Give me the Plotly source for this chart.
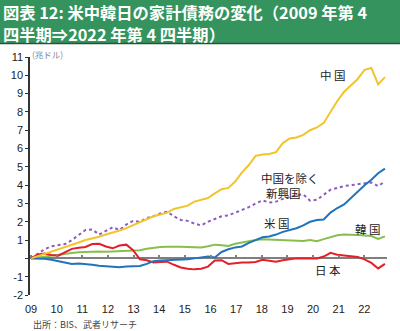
import plotly.graph_objects as go

# Quarterly household debt change since 2009Q4 (trillion USD), 2009Q4 .. 2022Q4
quarters = list(range(53))

china = [0, 0.12, 0.25, 0.4, 0.5, 0.62, 0.75, 0.87, 1.0, 1.08, 1.18, 1.3, 1.4, 1.52,
         1.65, 1.82, 2.0, 2.15, 2.3, 2.4, 2.5, 2.7, 2.8, 2.88, 3.1, 3.2, 3.3, 3.55,
         3.78, 3.85, 4.2, 4.7, 5.1, 5.6, 5.68, 5.7, 5.8, 6.3, 6.55, 6.6, 6.75, 7.0,
         7.15, 7.4, 8.0, 8.6, 9.1, 9.45, 9.8, 10.3, 10.4, 9.5, 9.9]

em_ex_china = [0, 0.25, 0.5, 0.66, 0.72, 0.78, 1.0, 1.3, 1.55, 1.58, 1.3, 1.5, 1.7,
               1.55, 1.85, 2.05, 2.0, 2.2, 2.3, 2.45, 2.55, 2.3, 2.1, 2.05, 1.9, 1.8,
               2.0, 2.15, 2.3, 2.35, 2.5, 2.65, 2.8, 3.0, 3.17, 3.05, 3.1, 3.25, 3.35,
               3.45, 3.5, 3.15, 3.2, 3.5, 3.75, 3.85, 3.95, 4.0, 4.05, 4.1, 4.15, 3.95, 4.2]

usa = [0, 0, -0.02, -0.08, -0.15, -0.25, -0.3, -0.28, -0.3, -0.35, -0.4, -0.42,
       -0.45, -0.48, -0.45, -0.42, -0.42, -0.3, -0.15, -0.12, -0.1, -0.08, -0.1,
       -0.05, 0.0, 0.05, 0.1, 0.05, 0.35, 0.5, 0.6, 0.65, 0.85, 1.0, 1.15, 1.2, 1.3,
       1.45, 1.55, 1.65, 1.8, 2.0, 2.1, 2.12, 2.5, 2.75, 2.95, 3.3, 3.7, 4.0, 4.3,
       4.65, 4.9]

korea = [0, 0.05, 0.12, 0.18, 0.22, 0.27, 0.3, 0.33, 0.35, 0.35, 0.37, 0.36, 0.38,
         0.42, 0.45, 0.43, 0.45, 0.52, 0.58, 0.62, 0.64, 0.65, 0.63, 0.62, 0.6, 0.6,
         0.66, 0.75, 0.72, 0.68, 0.8, 0.88, 0.95, 1.0, 1.04, 1.02, 1.0, 0.97, 0.95,
         0.93, 0.95, 1.0, 0.94, 1.05, 1.15, 1.26, 1.3, 1.3, 1.28, 1.25, 1.22, 1.06, 1.2]

japan = [0, 0.22, 0.27, 0.18, 0.15, 0.35, 0.52, 0.58, 0.62, 0.78, 0.8, 0.65, 0.55,
         0.7, 0.75, 0.45, -0.05, -0.1, -0.22, -0.2, -0.18, -0.35, -0.5, -0.56, -0.6,
         -0.57, -0.45, -0.12, -0.1, -0.3, -0.25, -0.23, -0.23, -0.2, -0.08, -0.15,
         -0.18, -0.1, -0.05, 0.0, 0.0, 0.0, 0.0, 0.1, 0.3, 0.2, 0.15, 0.12, 0.08,
         -0.05, -0.25, -0.55, -0.3]

year_labels = ["09", "10", "11", "12", "13", "14", "15", "16", "17", "18", "19",
               "20", "21", "22"]
y_ticks = [-2, -1, 0, 1, 2, 3, 4, 5, 6, 7, 8, 9, 10, 11]
y_tick_text = ["-2", "-1", "", "1", "2", "3", "4", "5", "6", "7", "8", "9", "10", "11"]

W, H = 400, 331
M_L, M_R, M_T, M_B = 30, 13, 57, 36
year_step = 3.767  # quarters between year labels on this axis

tick_pos = [i * year_step for i in range(len(year_labels))]

CJK = "Noto Sans CJK JP"
LAT = "Liberation Sans"

fig = go.Figure()

series = [
    (em_ex_china, "#8a5cc0", "dot", 2),
    (korea, "#86bf4e", "solid", 2),
    (japan, "#e3202a", "solid", 2),
    (usa, "#1f74bd", "solid", 2),
    (china, "#f2c42c", "solid", 2),
]
for vals, color, dash, w in series:
    fig.add_trace(go.Scatter(x=quarters, y=vals, mode="lines",
                             line=dict(color=color, width=w, dash=dash),
                             showlegend=False, hoverinfo="skip"))

plot_h = H - M_T - M_B
plot_w = W - M_L - M_R


def py(px):
    # pixel row -> paper y
    return (H - M_B - px) / plot_h


def px_(x):
    # pixel column -> paper x
    return (x - M_L) / plot_w


def note(text, x, y, size, color, family=CJK, xanchor="center", bold=False):
    fig.add_annotation(xref="paper", yref="paper", x=px_(x), y=py(y),
                       xanchor=xanchor, yanchor="middle", showarrow=False,
                       text=text, borderpad=0,
                       font=dict(family=family, size=size, color=color,
                                 weight="bold" if bold else "normal"))


# title banner
fig.add_shape(type="rect", xref="paper", yref="paper", x0=px_(0), x1=px_(W),
              y0=py(43), y1=py(-2), fillcolor="#35945e", line_width=0, layer="below")
fig.add_shape(type="line", xref="paper", yref="paper", x0=px_(0), x1=px_(W),
              y0=py(43.5), y1=py(43.5), line=dict(color="#2f4f3c", width=1.5))

note("図表 12: 米中韓日の家計債務の変化（2009 年第 4", 2, 12, 16.3, "white",
     xanchor="left", bold=True)
note("四半期⇒2022 年第 4 四半期）", 2, 34.5, 16.3, "white", xanchor="left", bold=True)

labels = [
    ("中 国", 333, 75),
    ("中国を除く", 290, 178),
    ("新興国", 283, 193),
    ("米 国", 277, 223),
    ("韓 国", 368, 229),
    ("日 本", 328, 270),
]
for txt, x, y in labels:
    note(txt, x, y, 11.5, "#222222")

note("(兆ドル)", 31, 54, 8.5, "#888888", xanchor="left")
note("出所：BIS、武者リサーチ", 32, 324, 9, "#444444", xanchor="left")

fig.update_layout(
    width=W, height=H,
    margin=dict(l=M_L, r=M_R, t=M_T, b=M_B, pad=0),
    plot_bgcolor="white", paper_bgcolor="white",
    xaxis=dict(range=[-0.15, 52.3], tickvals=tick_pos, ticktext=year_labels,
               showgrid=False, zeroline=False, showline=False, ticks="",
               ticklabelstandoff=6,
               tickfont=dict(family=LAT, size=11, color="#222222")),
    xaxis2=dict(range=[-0.15, 52.3], overlaying="x", anchor="free",
                position=2 / 13, tickvals=tick_pos, showticklabels=False,
                ticks="inside", ticklen=3, tickcolor="#7f7f7f", tickwidth=1.5,
                showline=False, showgrid=False, zeroline=False),
    yaxis=dict(range=[-2, 11], tickvals=y_ticks, ticktext=y_tick_text,
               showgrid=False, zeroline=True, zerolinecolor="#7f7f7f",
               zerolinewidth=2, showline=True, linecolor="#333333", linewidth=1.5,
               ticks="outside", ticklen=3, tickcolor="#333333",
               tickfont=dict(family=LAT, size=11, color="#222222")),
)

# invisible trace that carries the tick marks on the zero line
fig.add_trace(go.Scatter(x=[0], y=[0], xaxis="x2", mode="markers",
                         marker=dict(opacity=0), showlegend=False, hoverinfo="skip"))

fig.write_html("out.html")
